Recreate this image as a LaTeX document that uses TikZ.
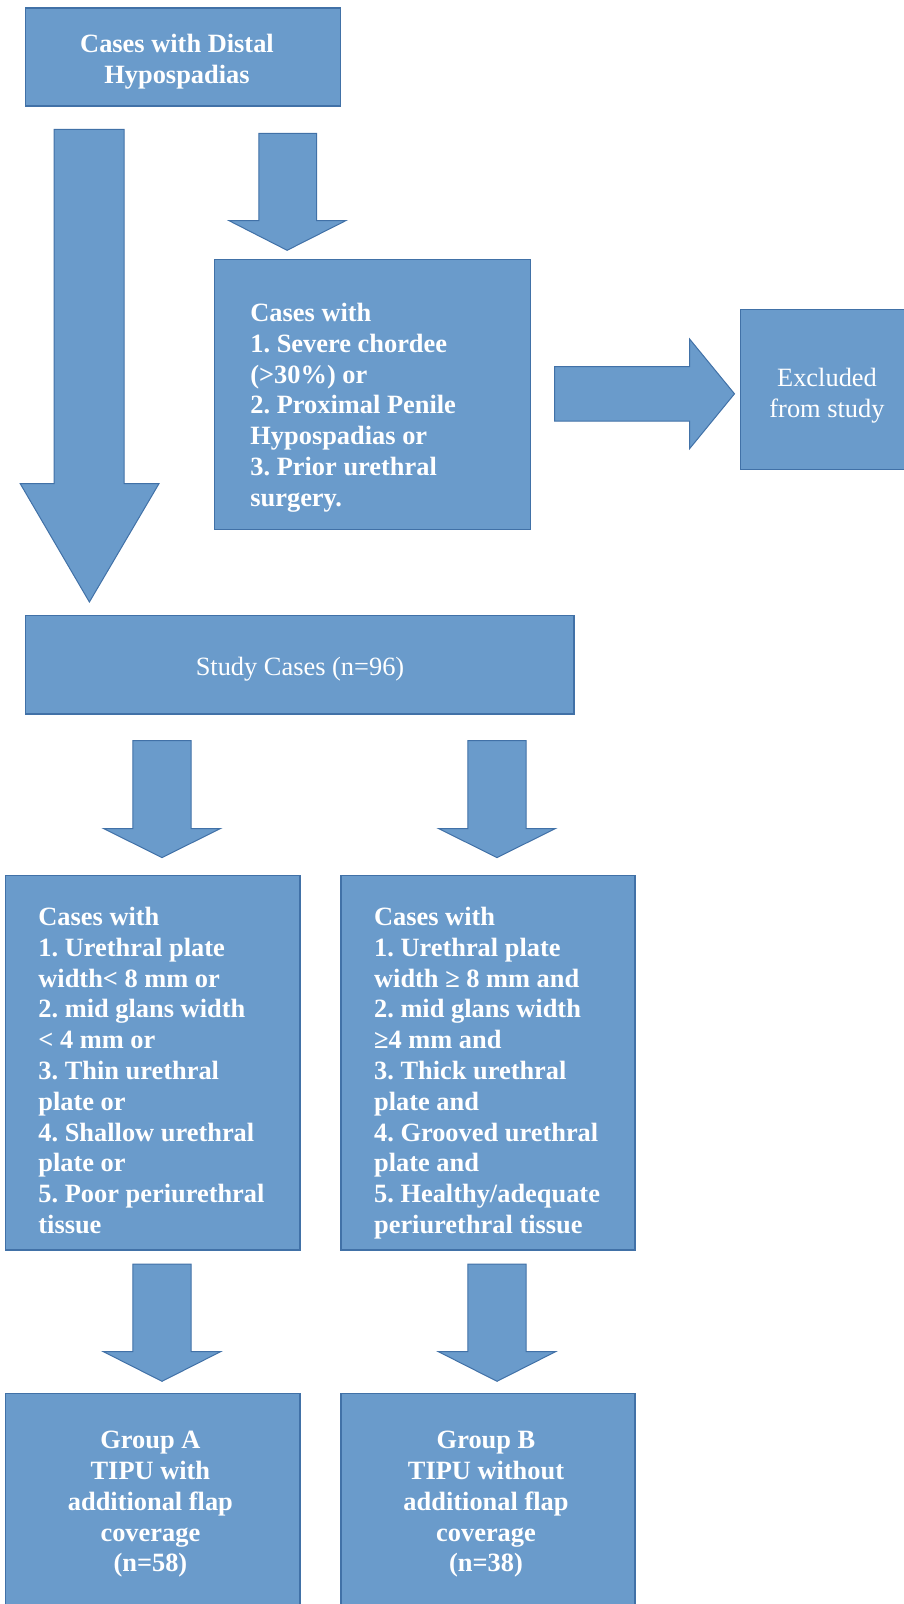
\documentclass[tikz,border=0pt]{standalone}
\usepackage{fontspec}
\setmainfont{Liberation Serif}
\usepackage{tikz}
\usetikzlibrary{positioning}
\definecolor{box_blue}{RGB}{106,155,203}
\definecolor{edge_blue}{RGB}{65,113,167}
\frenchspacing

\begin{document}
\begin{tikzpicture}[x=1pt,y=-1pt]
    \tikzstyle{box}=[draw=edge_blue, fill=box_blue, line width=1.2pt, rectangle, inner sep=0pt]
    \tikzstyle{blockarrow}=[draw=edge_blue, fill=box_blue, line width=1pt, line join=miter]
    \tikzstyle{txt}=[text=white, inner sep=0pt, font=\fontsize{26.4}{30.8}\selectfont\bfseries]
    \tikzstyle{plain}=[txt, font=\fontsize{26.4}{31.5}\selectfont]

    \useasboundingbox (0,0) rectangle (904,1604);
    \clip (0,0) rectangle (904,1604);

    % boxes
    \node[box, minimum width=314.9pt, minimum height=98pt]    (dist)  at (183.05,57)     {};
    \node[box, minimum width=315.9pt, minimum height=269.3pt] (crit)  at (372.45,394.45) {};
    \node[box, minimum width=171.7pt, minimum height=160.5pt] (excl)  at (826.15,389.45) {};
    \node[box, minimum width=548.3pt, minimum height=98.4pt]  (study) at (299.85,664.8)  {};
    \node[box, minimum width=294.2pt, minimum height=374.3pt] (thin)  at (152.9,1062.85) {};
    \node[box, minimum width=294pt,   minimum height=374.3pt] (thick) at (488,1062.85)   {};
    \node[box, minimum width=294.2pt, minimum height=218.7pt] (grpa)  at (152.9,1502.65) {};
    \node[box, minimum width=294pt,   minimum height=218.7pt] (grpb)  at (488,1502.65)   {};

    % texts
    \node[txt, anchor=north, align=center, font=\fontsize{26.4}{31.6}\selectfont\bfseries] (dist_t) at (177,33.5)
        {Cases with Distal\\Hypospadias};
    \node[txt, anchor=north west, align=left] (crit_t) at (250.2,303)
        {Cases with\\1. Severe chordee\\(>30\%) or\\2. Proximal Penile\\Hypospadias or\\3. Prior urethral\\surgery.};
    \node[plain, anchor=north, align=center] (excl_t) at (827,367.5)
        {Excluded\\from study};
    \node[plain, anchor=base] (study_t) at (300,675.8) {Study Cases (n=96)};
    \node[txt, anchor=north west, align=left] (thin_t) at (38.2,907)
        {Cases with\\1. Urethral plate\\width< 8 mm or\\2. mid glans width\\< 4 mm or\\3. Thin urethral\\plate or\\4. Shallow urethral\\plate or\\5. Poor periurethral\\tissue};
    \node[txt, anchor=north west, align=left] (thick_t) at (373.9,907)
        {Cases with\\1. Urethral plate\\width ≥ 8 mm and\\2. mid glans width\\≥4 mm and\\3. Thick urethral\\plate and\\4. Grooved urethral\\plate and\\5. Healthy/adequate\\periurethral tissue};
    \node[txt, anchor=north, align=center] (grpa_t) at (150.4,1431)
        {Group A\\TIPU with\\additional flap\\coverage\\(n=58)};
    \node[txt, anchor=north, align=center] (grpb_t) at (486,1431)
        {Group B\\TIPU without\\additional flap\\coverage\\(n=38)};

    % block arrows
    \draw[blockarrow] (54.2,129.3) -- (124,129.3) -- (124,483.6) -- (159,483.6)
        -- (89.4,602) -- (20.2,483.6) -- (54.2,483.6) -- cycle;
    \draw[blockarrow] (258.9,133.3) -- (316.5,133.3) -- (316.5,220.6) -- (345.9,220.6)
        -- (287.1,250.3) -- (228.9,220.6) -- (258.9,220.6) -- cycle;
    \draw[blockarrow] (554.6,366.5) -- (689.5,366.5) -- (689.5,338.9) -- (734.5,393.8)
        -- (689.5,448.8) -- (689.5,421) -- (554.6,421) -- cycle;
    \foreach \cx/\ytop/\yhead/\ytip in {162/740.6/828.5/857.6, 497/740.6/828.5/857.6,
                                         162/1264/1351.7/1381.3, 497/1264/1351.7/1381.3}
        \draw[blockarrow] (\cx-29.1,\ytop) -- (\cx+29.1,\ytop) -- (\cx+29.1,\yhead) -- (\cx+58.5,\yhead)
            -- (\cx,\ytip) -- (\cx-58.5,\yhead) -- (\cx-29.1,\yhead) -- cycle;
\end{tikzpicture}
\end{document}
